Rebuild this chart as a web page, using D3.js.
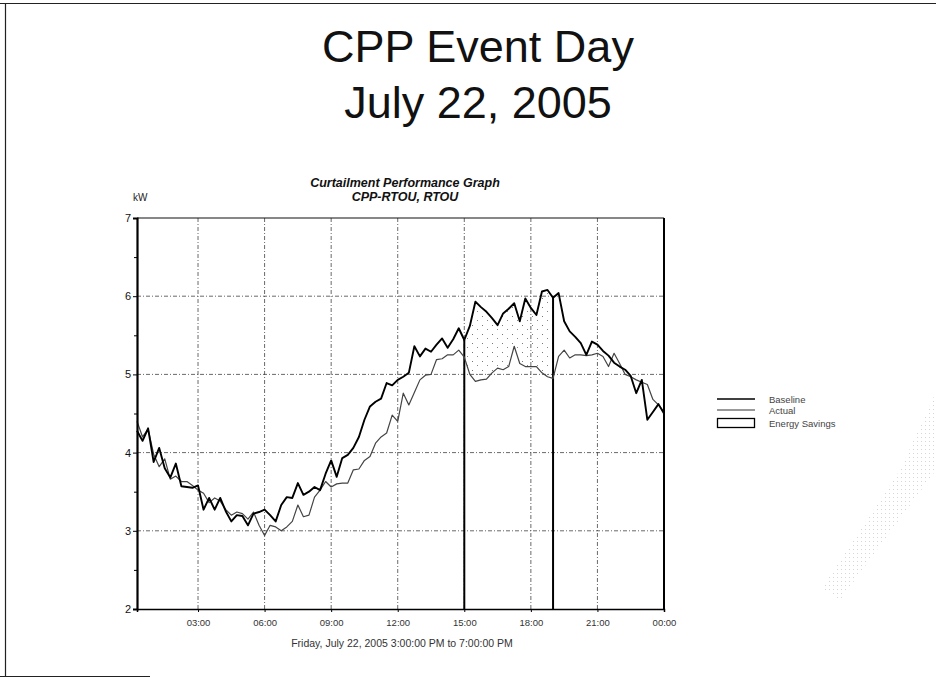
<!DOCTYPE html>
<html>
<head>
<meta charset="utf-8">
<script src="https://cdn.jsdelivr.net/npm/d3@7"></script>
<style>
  body { margin: 0; background: #fff; }
  svg { display: block; font-family: "Liberation Sans", Arial, sans-serif; }
</style>
</head>
<body>
<div id="chart"></div>
<script>
/* CPP event day - curtailment performance graph */

// 15 minute readings, 00:15 .. 24:00 (hours)
const hours = d3.range(1, 97).map(i => i * 0.25);

const baseline = [
  4.28, 4.15, 4.31, 3.88, 4.06, 3.80, 3.68, 3.86, 3.57, 3.56, 3.55, 3.58,
  3.27, 3.42, 3.27, 3.42, 3.25, 3.12, 3.20, 3.19, 3.07, 3.22, 3.24, 3.27,
  3.20, 3.12, 3.33, 3.43, 3.42, 3.61, 3.46, 3.50, 3.56, 3.52, 3.73, 3.90,
  3.69, 3.93, 3.97, 4.06, 4.20, 4.42, 4.59, 4.65, 4.69, 4.89, 4.86, 4.93,
  4.97, 5.02, 5.36, 5.23, 5.33, 5.29, 5.38, 5.46, 5.34, 5.45, 5.59, 5.44,
  5.62, 5.93, 5.86, 5.80, 5.72, 5.63, 5.78, 5.84, 5.91, 5.68, 5.97, 5.85,
  5.76, 6.06, 6.08, 5.98, 6.04, 5.68, 5.55, 5.48, 5.40, 5.25, 5.42, 5.38,
  5.30, 5.24, 5.15, 5.10, 5.06, 4.98, 4.76, 4.93, 4.42, 4.52, 4.62, 4.50
];

const actual = [
  4.40, 4.20, 4.30, 3.98, 3.82, 3.92, 3.66, 3.70, 3.63, 3.63, 3.58, 3.52,
  3.48, 3.36, 3.42, 3.38, 3.27, 3.20, 3.24, 3.22, 3.15, 3.24, 3.07, 2.94,
  3.07, 3.05, 3.00, 3.05, 3.12, 3.33, 3.18, 3.20, 3.43, 3.52, 3.63, 3.56,
  3.60, 3.61, 3.61, 3.78, 3.79, 3.90, 3.95, 4.12, 4.20, 4.25, 4.48, 4.40,
  4.76, 4.61, 4.77, 4.93, 4.99, 5.00, 5.19, 5.20, 5.25, 5.25, 5.31, 5.22,
  5.00, 4.91, 4.93, 4.94, 5.02, 5.08, 5.06, 5.10, 5.36, 5.14, 5.10, 5.10,
  5.10, 5.02, 4.97, 4.95, 5.23, 5.31, 5.21, 5.25, 5.25, 5.24, 5.25, 5.27,
  5.23, 5.10, 5.27, 5.14, 5.00, 4.97, 4.93, 4.90, 4.87, 4.68, 4.61, 4.52
];

const eventWindow = [15, 19]; // 3:00 PM to 7:00 PM
const xTicks = [3, 6, 9, 12, 15, 18, 21, 24];
const xTickLabels = ["03:00", "06:00", "09:00", "12:00", "15:00", "18:00", "21:00", "00:00"];
const yTicks = [2, 3, 4, 5, 6, 7];
const yMinorTicks = [2.5, 3.5, 4.5, 5.5, 6.5];
const legendItems = ["Baseline", "Actual", "Energy Savings"];

const width = 936, height = 677;
const plot = { left: 137, right: 664, top: 218, bottom: 609 };

const data = hours.map((h, i) => ({ h: h, base: baseline[i], act: actual[i] }));

const svg = d3.select("#chart").append("svg")
    .attr("width", width)
    .attr("height", height);

// stipple used for the energy savings area
const defs = svg.append("defs");
const pat = defs.append("pattern")
    .attr("id", "dots")
    .attr("patternUnits", "userSpaceOnUse")
    .attr("width", 10).attr("height", 9);
pat.append("rect").attr("x", 2).attr("y", 1).attr("width", 1).attr("height", 1).attr("fill", "#777");
pat.append("rect").attr("x", 7).attr("y", 5).attr("width", 1).attr("height", 1).attr("fill", "#888");

// faint stipple of the scanned page (lower right corner)
const pat2 = defs.append("pattern")
    .attr("id", "scan")
    .attr("patternUnits", "userSpaceOnUse")
    .attr("width", 4).attr("height", 4);
pat2.append("rect").attr("x", 1).attr("y", 1).attr("width", 1).attr("height", 1).attr("fill", "#c4c4c4");

svg.append("path")
    .attr("d", "M936,392L936,470L840,600L822,588L900,470Z")
    .attr("fill", "url(#scan)")
    .attr("opacity", 0.7);

// page frame (scanned slide border)
svg.append("path")
    .attr("d", "M0,3.5H936M5.5,3.5V676M0,676.5H150")
    .attr("fill", "none")
    .attr("stroke", "#222")
    .attr("stroke-width", 1.2);

// slide title
svg.append("text")
    .attr("x", 478).attr("y", 62)
    .attr("text-anchor", "middle")
    .attr("font-size", 45)
    .attr("fill", "#111")
    .text("CPP Event Day");
svg.append("text")
    .attr("x", 478).attr("y", 118)
    .attr("text-anchor", "middle")
    .attr("font-size", 45)
    .attr("fill", "#111")
    .text("July 22, 2005");

let x = d3.scaleLinear()
    .domain([0.25, 24])
    .range([plot.left, plot.right]);

let y = d3.scaleLinear()
    .domain([2, 7])
    .range([plot.bottom, plot.top]);

// chart titles
svg.append("text")
    .attr("x", 405).attr("y", 187)
    .attr("text-anchor", "middle")
    .attr("font-size", 12.5).attr("font-weight", "bold").attr("font-style", "italic")
    .attr("fill", "#111")
    .text("Curtailment Performance Graph");
svg.append("text")
    .attr("x", 405).attr("y", 201)
    .attr("text-anchor", "middle")
    .attr("font-size", 12.5).attr("font-weight", "bold").attr("font-style", "italic")
    .attr("fill", "#111")
    .text("CPP-RTOU, RTOU");
svg.append("text")
    .attr("x", 133).attr("y", 201)
    .attr("font-size", 10)
    .attr("fill", "#222")
    .text("kW");

// dash-dot grid
svg.append("g")
    .selectAll("line")
    .data(yTicks.filter(d => d > 2 && d < 7))
    .join("line")
    .attr("x1", plot.left).attr("x2", plot.right)
    .attr("y1", d => y(d)).attr("y2", d => y(d))
    .attr("stroke", "#444").attr("stroke-width", 0.8)
    .attr("stroke-dasharray", "4,2,1,2");
svg.append("g")
    .selectAll("line")
    .data(xTicks.filter(d => d < 24))
    .join("line")
    .attr("x1", d => x(d)).attr("x2", d => x(d))
    .attr("y1", plot.top).attr("y2", plot.bottom)
    .attr("stroke", "#444").attr("stroke-width", 0.8)
    .attr("stroke-dasharray", "4,2,1,2");

// energy savings area during the event
const eventData = data.filter(d => d.h >= eventWindow[0] && d.h <= eventWindow[1]);
svg.append("path")
    .datum(eventData)
    .attr("d", d3.area().x(d => x(d.h)).y0(d => y(d.act)).y1(d => y(d.base)))
    .attr("fill", "url(#dots)");

// event start / end markers
svg.append("g")
    .selectAll("line")
    .data(eventWindow)
    .join("line")
    .attr("x1", d => x(d)).attr("x2", d => x(d))
    .attr("y1", y(2))
    .attr("y2", d => y(data.find(p => p.h === d).base))
    .attr("stroke", "#000").attr("stroke-width", 2);

// actual load
svg.append("path")
    .datum(data)
    .attr("d", d3.line().x(d => x(d.h)).y(d => y(d.act)))
    .attr("fill", "none")
    .attr("stroke", "#444")
    .attr("stroke-width", 1.2)
    .attr("stroke-linejoin", "round");

// baseline
svg.append("path")
    .datum(data)
    .attr("d", d3.line().x(d => x(d.h)).y(d => y(d.base)))
    .attr("fill", "none")
    .attr("stroke", "#000")
    .attr("stroke-width", 1.9)
    .attr("stroke-linejoin", "round");

// frame of plot
svg.append("line")
    .attr("x1", plot.left).attr("x2", plot.right)
    .attr("y1", plot.top).attr("y2", plot.top)
    .attr("stroke", "#111").attr("stroke-width", 1.2);
svg.append("line")
    .attr("x1", plot.right).attr("x2", plot.right)
    .attr("y1", plot.top).attr("y2", plot.bottom)
    .attr("stroke", "#000").attr("stroke-width", 2);

// y axis
const yAxis = svg.append("g")
    .attr("transform", `translate(${plot.left},0)`)
    .call(d3.axisLeft(y).tickValues(yTicks).tickSize(4).tickPadding(2).tickFormat(d3.format("d")));
yAxis.select(".domain").attr("stroke", "#000").attr("stroke-width", 2.2);
yAxis.selectAll("text").attr("font-size", 11).attr("fill", "#111").attr("font-family", "Liberation Sans, Arial, sans-serif");
svg.append("g")
    .attr("transform", `translate(${plot.left},0)`)
    .call(d3.axisLeft(y).tickValues(yMinorTicks).tickSize(3).tickFormat(""))
    .select(".domain").remove();

// x axis
const xAxis = svg.append("g")
    .attr("transform", `translate(0,${plot.bottom})`)
    .call(d3.axisBottom(x).tickValues(xTicks).tickSize(3).tickPadding(7)
        .tickFormat((d, i) => xTickLabels[i]));
xAxis.select(".domain").attr("stroke", "#000").attr("stroke-width", 1.5);
xAxis.selectAll("text").attr("font-size", 9.5).attr("fill", "#333").attr("font-family", "Liberation Sans, Arial, sans-serif");

svg.append("text")
    .attr("x", 402).attr("y", 647)
    .attr("text-anchor", "middle")
    .attr("font-size", 10.5)
    .attr("fill", "#333")
    .text("Friday, July 22, 2005 3:00:00 PM to 7:00:00 PM");

// legend
const legend = svg.append("g").attr("transform", "translate(717,399)");
legend.append("line")
    .attr("x1", 0).attr("x2", 38).attr("y1", 0).attr("y2", 0)
    .attr("stroke", "#000").attr("stroke-width", 1.3);
legend.append("line")
    .attr("x1", 0).attr("x2", 38).attr("y1", 11).attr("y2", 11)
    .attr("stroke", "#333").attr("stroke-width", 1);
legend.append("rect")
    .attr("x", 0.5).attr("y", 19.5).attr("width", 37).attr("height", 9)
    .attr("fill", "#fff").attr("stroke", "#000").attr("stroke-width", 1.3);
legend.selectAll("text")
    .data(legendItems)
    .join("text")
    .attr("x", 52)
    .attr("y", (d, i) => [3.5, 14.5, 27.5][i])
    .attr("font-size", 9.5)
    .attr("fill", "#444")
    .text(d => d);
</script>
</body>
</html>
